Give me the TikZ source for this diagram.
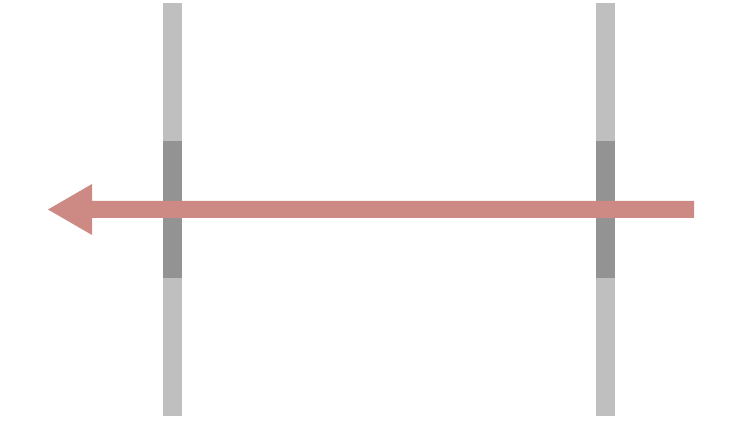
\documentclass[tikz,border=0pt]{standalone}
\definecolor{barlight}{HTML}{BFBFBF}
\definecolor{bardark}{HTML}{939393}
\definecolor{arrowred}{HTML}{CD8A85}
\begin{document}
\begin{tikzpicture}[x=1pt,y=-1pt,
  lightseg/.style={fill=barlight,draw=none},
  darkseg/.style={fill=bardark,draw=none},
  bigarrow/.style={fill=arrowred,draw=none}]
\useasboundingbox (0,0) rectangle (750,422);
% left bar
\fill[lightseg] (163,3) rectangle (182,416);
\fill[darkseg] (163,141) rectangle (182,278);
% right bar
\fill[lightseg] (596,3) rectangle (615,416);
\fill[darkseg] (596,141) rectangle (615,278);
% arrow
\coordinate (tail) at (694,209.5);
\coordinate (tip) at (48,209.5);
\fill[bigarrow] (694,201) -- (92,201) -- (92,184) -- (tip) -- (92,235) -- (92,218) -- (694,218) -- cycle;
\end{tikzpicture}
\end{document}
